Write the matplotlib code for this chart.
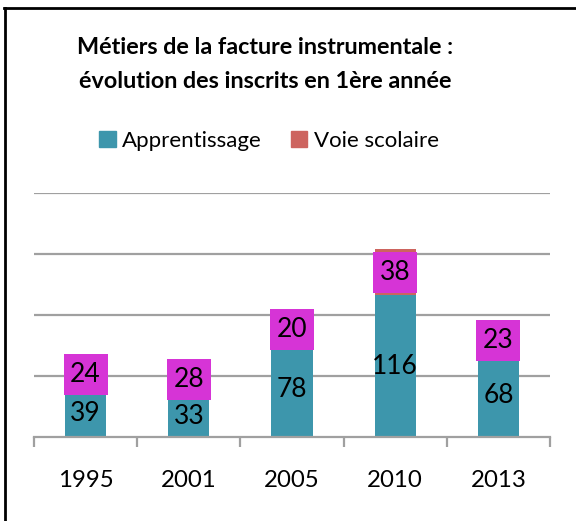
import matplotlib
matplotlib.use("Agg")
import matplotlib.pyplot as plt
from matplotlib.lines import Line2D
from matplotlib.patches import Patch
import numpy as np

years = ["1995", "2001", "2005", "2010", "2013"]
apprentissage = [39, 33, 78, 116, 68]
voie_scolaire = [24, 28, 20, 38, 23]

TEAL = "#3D96AC"
SALMON = "#CD645F"
MAGENTA = "#D634D6"
GRID = "#A0A0A0"
FONT = "Lato"

fig = plt.figure(figsize=(5.76, 5.21), dpi=100)
ax = fig.add_axes([34/576, 1-437/521, (550-34)/576, (437-193)/521])

x = np.arange(len(years))
app = np.array(apprentissage)
voie = np.array(voie_scolaire)
w = 0.4
ax.bar(x, app, width=w, color=TEAL, zorder=2)
ax.bar(x, voie, bottom=app, width=w, color=SALMON, zorder=2)

# label boxes (fixed size, centered on the top segment)
box_h = 33.6
box_w = 0.426
centers = app + voie / 2
ax.bar(x, box_h, bottom=centers - box_h/2, width=box_w, color=MAGENTA, zorder=3)
for xi, c, v in zip(x, centers, voie):
    ax.text(xi, c, str(v), ha="center", va="center", fontsize=19,
            family=FONT, color="black", zorder=4)
for xi, a in zip(x, app):
    ax.text(xi, a/2, str(a), ha="center", va="center", fontsize=19,
            family=FONT, color="black", zorder=4)

ax.set_ylim(0, 200)
ax.set_xlim(-0.5, len(years) - 0.5)
ax.set_yticks([50, 100, 150, 200])
ax.yaxis.grid(True, color=GRID, linewidth=1.6, zorder=0)
ax.tick_params(axis="y", left=False, labelleft=False)
for s in ["top", "right", "left"]:
    ax.spines[s].set_visible(False)
ax.spines["bottom"].set_color(GRID)
ax.spines["bottom"].set_linewidth(1.6)
ax.set_xticks(np.arange(len(years) + 1) - 0.5)
ax.set_xticklabels([])
ax.tick_params(axis="x", which="major", length=7, width=1.6, color=GRID, direction="out")
ax.set_xticks(x, minor=True)
ax.set_xticklabels(years, minor=True, fontsize=17.3, family=FONT)
ax.tick_params(axis="x", which="minor", length=0, pad=24)

tx = 265/576
fig.text(tx, 1-48/521, "Métiers de la facture instrumentale :", ha="center", va="center",
         fontsize=16.8, fontweight="bold", family=FONT)
fig.text(tx, 1-82/521, "évolution des inscrits en 1ère année", ha="center", va="center",
         fontsize=16.8, fontweight="bold", family=FONT)

handles = [Patch(color=TEAL, label="Apprentissage"), Patch(color=SALMON, label="Voie scolaire")]
fig.legend(handles=handles, loc="center", bbox_to_anchor=(269/576, 1-141/521), ncol=2,
           frameon=False, prop={"family": FONT, "size": 16}, handlelength=0.75,
           handleheight=0.75, handletextpad=0.3, columnspacing=1.3)

# border (top and left visible)
fig.add_artist(Line2D([4/576, 1], [1-8/521, 1-8/521], color="black", linewidth=2,
                      transform=fig.transFigure))
fig.add_artist(Line2D([5/576, 5/576], [0, 1-8/521], color="black", linewidth=2,
                      transform=fig.transFigure))

fig.savefig("out.png", dpi=100)
